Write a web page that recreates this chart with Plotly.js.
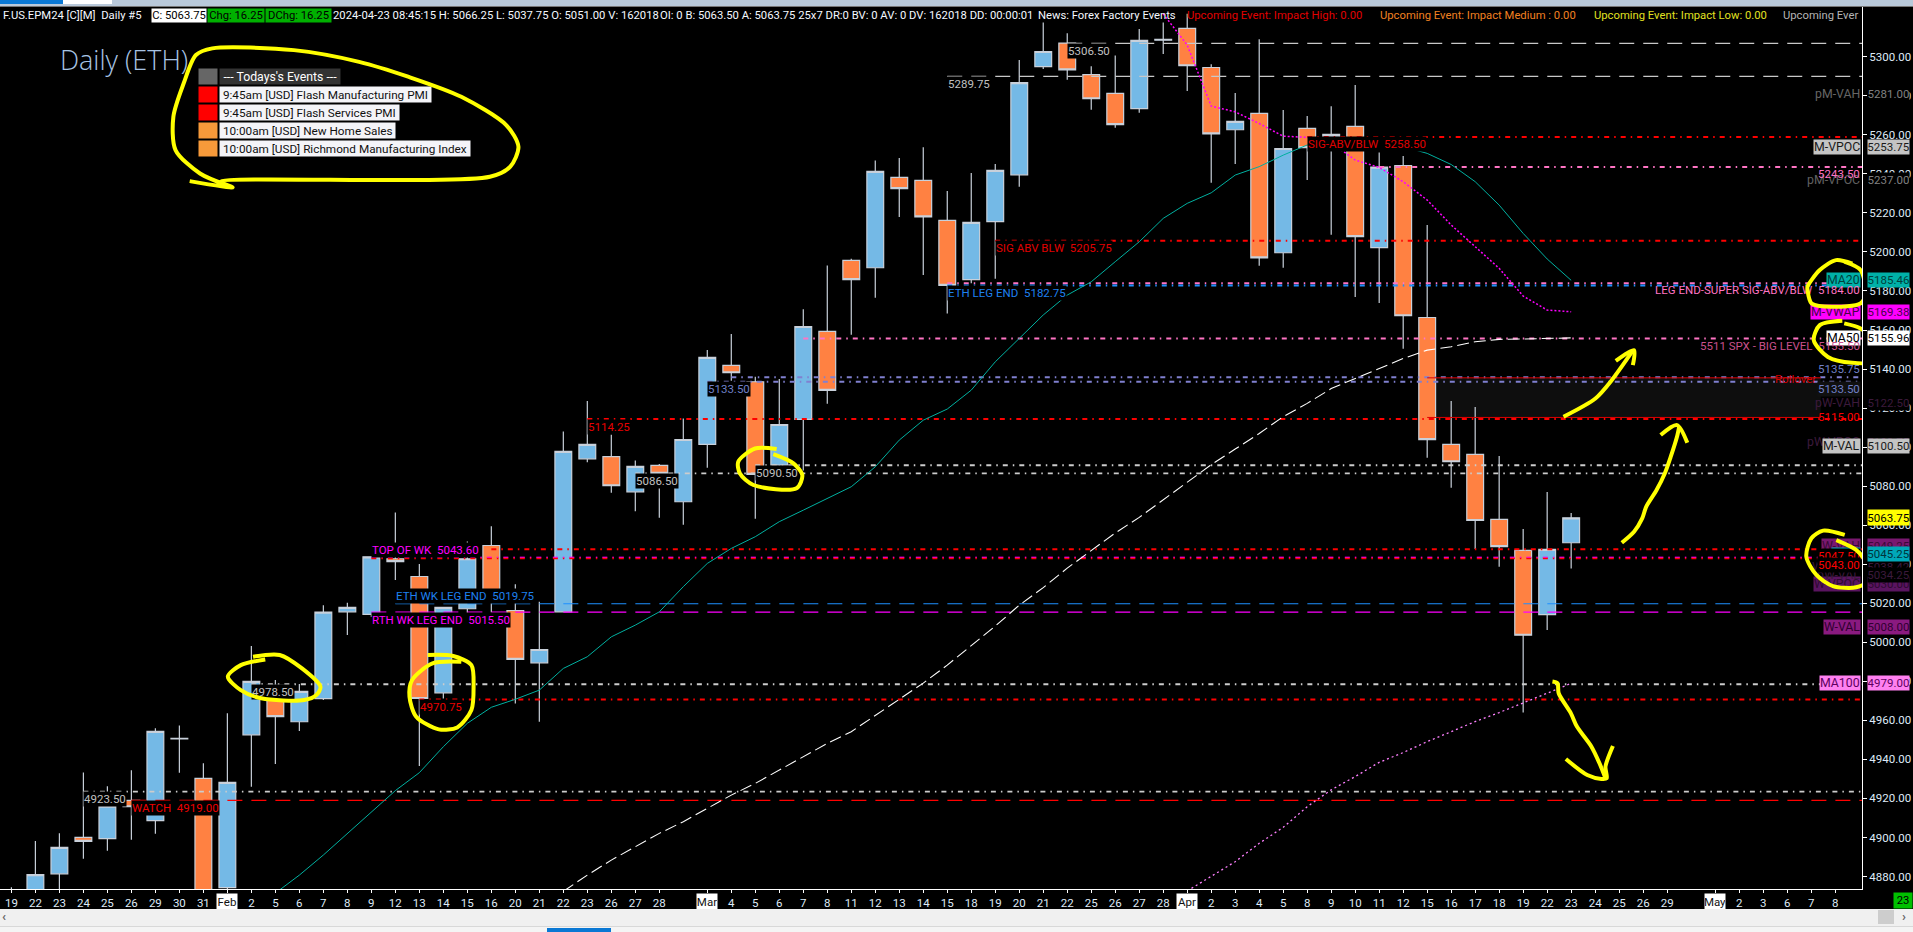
<!DOCTYPE html>
<html>
<head>
<meta charset="utf-8">
<script src="https://cdn.plot.ly/plotly-3.0.1.min.js"></script>
<style>
html,body{margin:0;padding:0;background:#000;overflow:hidden;width:1913px;height:932px}
#chart,#ink{position:absolute;left:0;top:0;width:1913px;height:932px}
#ink{pointer-events:none}
.c{position:absolute}
</style>
</head>
<body>
<div id="chart"></div>
<div id="ink"></div>
<div class="c" style="left:0;top:0;width:1913px;height:6px;background:#b9c9da;border-bottom:1px solid #777"></div>
<div class="c" style="left:0;top:0;width:63px;height:4px;background:#0a78d4"></div>
<div class="c" style="left:63px;top:0;width:49px;height:4px;background:#fff"></div>
<div class="c" style="left:0;top:909px;width:1913px;height:17px;background:#f0f0f0"></div>
<div class="c" style="left:0;top:926px;width:1913px;height:6px;background:#f4f4f4;border-top:1px solid #d8d8d8"></div>
<div class="c" style="left:1878px;top:910px;width:16px;height:14px;background:#cdcdcd"></div>
<div class="c" style="left:2px;top:909px;font:bold 13px Roboto;color:#666">‹</div>
<div class="c" style="left:1902px;top:909px;font:bold 13px Roboto;color:#666">›</div>
<div class="c" style="left:547px;top:928px;width:64px;height:4px;background:#0a78d4"></div>
<script>
// ---- bars: one slot per trading session ----
const dayLabels = ['19','22','23','24','25','26','29','30','31','','2','5','6','7','8','9','12','13','14','15','16','20','21','22','23','26','27','28','','','4','5','6','7','8','11','12','13','14','15','18','19','20','21','22','25','26','27','28','','2','3','4','5','8','9','10','11','12','15','16','17','18','19','22','23','24','25','26','29','','','2','3','6','7','8'];
const monthSlots = [9,29,49,71];
const monthNames = ['Feb','Mar','Apr','May'];

const opens  = [4868,4870,4881.4,4900,4899.4,4919,4908.6,4950.5,4930.3,4874.3,4952.6,4978,4959.3,4971.1,5015.6,5014.3,5042.8,5033.7,4974.1,5017.2,5049.6,5016.3,4989.5,5015.6,5094,5095.1,5077.1,5090.6,5072,5101.4,5141.9,5133.5,5090.8,5114.2,5159.3,5195.7,5191.9,5238.2,5236.7,5216.2,5185.8,5215.5,5239.5,5294.9,5307,5290.9,5281.2,5273.4,5308.5,5314.5,5294.5,5262.6,5271,5199.6,5263.3,5259,5264.3,5202.2,5244.3,5166.4,5101.4,5096.3,5063,5047.1,5014.2,5051];
const highs  = [4874.5,4898.2,4902.1,4933.3,4926.3,4934.5,4955.9,4957.4,4938,4963.6,4998.1,4980.7,4978.6,5019,5020.3,5043.8,5066.5,5040.1,5018,5051.7,5059.4,5029.8,5020.8,5108,5123.6,5106.5,5093.2,5091.3,5114.7,5149.7,5157.9,5136,5134.9,5170.7,5193.1,5196.5,5246.9,5248.1,5253.7,5231.2,5240.4,5245,5298.3,5317.6,5312,5295.2,5300.7,5314.2,5317.6,5322,5296.2,5281.4,5309,5272.7,5269.6,5274.7,5285.5,5251,5249.1,5213.8,5123.6,5120.5,5095.4,5058,5077,5066.25];
const lows   = [4860,4862,4868,4889.1,4893.2,4898.8,4901.9,4933.2,4862,4872.5,4926,4937.6,4954.5,4970.4,5003.7,5013,5031.9,4936.6,4971.2,5014,5015.3,4968.7,4959.3,5015.6,5092.3,5076.6,5067.2,5063.8,5060.2,5089.4,5134,5063.3,5090,5088,5122.2,5157.6,5176.5,5217.9,5188.2,5168.5,5183.9,5186.3,5233.4,5293.7,5288.2,5272.8,5263.6,5271.3,5301.4,5282.4,5235.4,5245,5192.9,5191.9,5236.8,5208.8,5176.9,5173.8,5150.4,5094.6,5079.2,5047.8,5038.7,4964,5006.3,5037.75];
const closes = [4872,4881,4894.9,4898,4916.1,4915.75,4954.4,4950.75,4868,4928.2,4980,4961.9,4974.9,5015.5,5017.9,5043.8,5041.3,4971.2,5017.9,5042.8,5024,4991.2,4996.3,5097.8,5101.4,5080.2,5090.1,5086.5,5103.9,5146,5138.1,5086,5111.6,5161.8,5129.1,5185.8,5241.3,5232.4,5218,5182.9,5215.1,5241.8,5286.8,5302.7,5293.3,5278.5,5265.2,5308.4,5308.9,5295.4,5260.5,5266.9,5197,5253,5253.4,5260.2,5207.8,5243.5,5167.3,5103.8,5092.5,5062.4,5049,5003.6,5047.6,5063.75];

// ---- moving averages: first slot + values ----
const ma20Start = 11;
const ma20 = [4871.5,4880.7,4891,4902,4913.2,4924,4933.2,4946.5,4958.5,4966.7,4970.8,4975.5,4986.6,4992.6,5002.8,5008.8,5015.6,5028.5,5040.4,5048.1,5054.1,5061.8,5067.7,5073.7,5079.7,5089.9,5103.6,5113.8,5119.5,5129.2,5143.7,5155.7,5167.7,5177.9,5184.7,5195,5205.2,5217.2,5224.9,5230.3,5239.4,5243.7,5249.6,5254.8,5257,5258,5257,5254,5250.5,5244.8,5236,5224,5209.5,5196.4,5185.46];
const ma50Start = 23;
const ma50 = [4872.4,4880.7,4888.4,4895.3,4902.1,4908.1,4914.9,4921.7,4927.7,4934.5,4941.7,4948.2,4954.2,4962.5,4971,4979.1,4988.3,4998.2,5008.3,5019,5028,5038,5047,5056,5064,5073,5082,5091,5099,5107,5115.6,5122.4,5130,5135.2,5140.3,5145.4,5149.7,5151.4,5154,5155.2,5155.4,5155.7,5155.96];
const ma100Start = 49;
const ma100 = [4872.6,4879.9,4887.6,4897,4905.2,4915.8,4924.4,4931.2,4938.5,4943.5,4949.1,4954.2,4959.4,4964,4968.8,4973.9,4979];
const vwapStart = 48;
const vwap = [5322,5306,5274.7,5271.8,5265.8,5259.3,5258.7,5256,5247.1,5243.3,5236,5226.6,5213.8,5202.7,5191.6,5177.4,5170.2,5169.38];

// ---- horizontal levels ----
const longDashPrices = [5306.9,5290];
const longDashSlots  = [44,39];
const redPrices = [5258.9,5205.75,5114.4,5047.7,5043,4970.75];
const redSlots  = [54,41,24,20,15,17];
const pinkPrices = [5243.5,5184,5155.7];
const pinkSlots  = [57,39,33];
const bluePrices = [5182.75];
const blueSlots  = [39];
const violetPrices = [5135.75,5133.5];
const violetSlots  = [30,29];
const greyPrices = [5090.7,5086.5,4978.5,4923.5];
const greySlots  = [31,26,10,3];
const topOfWeekPrice = 5043.6, topOfWeekSlot = 15;
const weekLegPrices = [5019.75,5015.5,4919];
const weekLegSlots  = [16,15,5];
const rolloverZone = [5135.5,5115.2];
const rolloverSlots = [59,75.4];

// ---- on-chart level captions ----
const captionTexts  = ['5306.50','5289.75','SIG ABV BLW  5205.75','ETH LEG END  5182.75','SIG-ABV/BLW  5258.50','5133.50','5114.25','5086.50','5090.50','TOP OF WK  5043.60','ETH WK LEG END  5019.75','RTH WK LEG END  5015.50','4978.50','4970.75','4923.50','WATCH  4919.00'];
const captionPrices = [5306.9,5290,5205.75,5182.75,5258.9,5133.5,5114.4,5086.5,5090.7,5043.6,5019.75,5015.5,4978.5,4970.75,4923.5,4919];
const captionSlots  = [44,39,41,39,54,29,24,26,31,15,16,15,10,17,3,5];

// ---- right-hand axis boxes ----
const sideNames  = ['pM-VAH','M-VPOC','pM-VPOC','MA20','M-VWAP','MA50','pW-VAH','pW-VPOC','M-VAL','W-VAH','W-VWAP','pW-VAL','W-VPOC','W-VAL','MA100'];
const sideValues = [5281,5253.75,5237,5185.46,5169.38,5155.96,5122.5,5102.75,5100.5,5049.25,5038.42,5034.25,5030,5008,4979];
const lastPrice = 5063.75, maFastValue = 5045.25;

const eventRows = ["--- Todays's Events ---",'9:45am [USD] Flash Manufacturing PMI','9:45am [USD] Flash Services PMI','10:00am [USD] New Home Sales','10:00am [USD] Richmond Manufacturing Index'];

// ---- hand-drawn marker strokes in (slot, price) ----
const inkLegendX=[7.43,9.22,8.71,19.94,20.79,21.13,20.62,18.75,16.53,14.49,11.77,8.37,7.69,7.18,6.75,6.84,7.86,8.97];
const inkLegendY=[5236.3,5233.1,5236,5238.5,5243.7,5253.9,5265,5279.5,5289.8,5297.4,5303.4,5304.3,5300.9,5286.4,5269.3,5252.2,5240.2,5234.3];
const inkMa20X=[76.72,76.04,75.36,74.85,74.85,75.02,75.87,77.06,77.27,77.06,76.38];
const inkMa20Y=[5194,5195.8,5190.7,5182.2,5180.5,5173.6,5171.9,5173.6,5178.7,5190.7,5195];
const inkMa50X=[76.3,75.36,75.11,75.7,76.72,77.66,77.57,77.06,76.38];
const inkMa50Y=[5164.7,5162.5,5154.8,5146.2,5143.2,5143.9,5154.8,5160.8,5163.4];
const inkUp1X=[64.68,66.01,66.69,67.54];
const inkUp1Y=[5115.6,5124.95,5134.3,5148.9];
const inkUp1HeadX=[66.86,67.62,67.57];
const inkUp1HeadY=[5144.2,5149.7,5142];
const inkUp2X=[67.11,67.62,67.96,68.13,68.56,68.9,69.15,69.41,69.5];
const inkUp2Y=[5051,5056.6,5063.5,5069.5,5078,5086.5,5095.1,5105.3,5110.4];
const inkUp2HeadX=[68.73,69.41,69.84];
const inkUp2HeadY=[5106.2,5111.3,5102.2];
const inkWkX=[76.4,75.5,75.01,74.8,75.22,75.91,76.88,77.44,77.3,76.88,76.05];
const inkWkY=[5055,5057.2,5053.3,5043.9,5034.5,5028.8,5028.2,5031.9,5040.5,5047.3,5052.4];
const inkDownX=[64.22,64.43,64.48,64.99,65.24,65.84,66.18,66.43];
const inkDownY=[4979.9,4979,4973.9,4963.6,4956.8,4946.6,4938,4930.3];
const inkDownHeadX=[64.78,65.67,66.26,66.48,66.43,66.74];
const inkDownHeadY=[4940.2,4932,4930,4930.3,4936.3,4946.9];
const inkA1X=[10.07,11.18,12.11,12.88,12.71,12.2,10.41,9.56,9.02,9.56,10.58];
const inkA1Y=[4992.6,4993.5,4986.6,4977.2,4973,4970.4,4971.3,4975.5,4982.4,4988.3,4991.2];
const inkA2X=[17.35,18.41,19.17,19.26,19.17,18.58,17.81,16.87,16.59,16.7,17.55,18.75];
const inkA2Y=[4993.5,4993,4988.3,4977.2,4965.3,4956.4,4955.4,4961.9,4972.1,4980.7,4989.2,4990];
const inkA3X=[31.89,30.99,30.29,30.36,30.92,32.72,32.96,32.59,31.75];
const inkA3Y=[5099,5099.3,5092.5,5086.5,5080.6,5078.9,5085.7,5091.7,5096.4];

// ---- frame ----
const PW=1913,PH=932,PR=1862,PT=7,PB=889;
const fx=p=>p/PR, fy=p=>(PB-p)/(PB-PT);
const xRange=[-0.475,77.12], yRange=[4873.6,5325.5];
const FONT='Roboto';
const slots=closes.map((_,i)=>i);
const range=(s,n)=>Array.from({length:n},(_,i)=>s+i);

const LD='15px,9px', DD='5px,5px,1.5px,5px';
function hline(prices,starts,color,dash,width){
  return prices.map((p,i)=>({type:'scatter',mode:'lines',x:[starts[i],xRange[1]],y:[p,p],
    line:{color:color,dash:dash,width:width},hoverinfo:'skip',showlegend:false}));
}
function series(start,vals,color,dash,width){
  return {type:'scatter',mode:'lines',x:range(start,vals.length),y:vals,
    line:{color:color,dash:dash,width:width},hoverinfo:'skip',showlegend:false};
}
const traces=[
 {type:'candlestick',x:slots,open:opens,high:highs,low:lows,close:closes,whiskerwidth:0,hoverinfo:'skip',showlegend:false,
  increasing:{line:{color:'#c8d0da',width:1.2},fillcolor:'#74b9e6'},
  decreasing:{line:{color:'#c8d0da',width:1.2},fillcolor:'#ff8142'}},
 ...hline(longDashPrices,longDashSlots,'#c8c8c8',LD,1.2),
 ...hline(redPrices,redSlots,'#ff0000',DD,2),
 ...hline(pinkPrices,pinkSlots,'#ff74c4',DD,2),
 ...hline(bluePrices,blueSlots,'#1e90ff',DD,2),
 ...hline(violetPrices,violetSlots,'#8080d0',DD,2),
 ...hline(greyPrices,greySlots,'#cccccc',DD,1.8),
 ...hline([topOfWeekPrice],[topOfWeekSlot],'#ff00ff',DD,1),
 ...hline([weekLegPrices[0]],[weekLegSlots[0]],'#1e90ff',LD,1.2),
 ...hline([weekLegPrices[1]],[weekLegSlots[1]],'#ff00ff',LD,1.2),
 ...hline([weekLegPrices[2]],[weekLegSlots[2]],'#ff0000',LD,1.2),
 series(ma20Start,ma20,'#00b0a0','solid',1),
 series(ma50Start,ma50,'#ffffff','12px,5px',1.1),
 series(ma100Start,ma100,'#ff80ff','2px,3px',1.3),
 series(vwapStart,vwap,'#ff00ff','2px,2px',1.5)
];

const ann=[];
function note(text,o){ann.push(Object.assign({text:text,showarrow:false,borderpad:0,font:{family:FONT,size:11.5,color:'#fff'}},o));}
function px(text,x,y,color,bg,anchor,w,size){
  const o={xref:'paper',yref:'paper',x:fx(x),y:fy(y),xanchor:anchor||'left',yanchor:'middle',font:{family:FONT,size:size||11.25,color:color}};
  if(bg)o.bgcolor=bg; if(w){o.width=w;o.align='center';}
  note(text,o);
}
// header strip
px('F.US.EPM24 [C][M]  Daily #5',2,15,'#f4f8ff');
px('C: 5063.75',151,15,'#000','#fff',null,54);
px('Chg: 16.25',207,15,'#000','#00b000',null,56);
px('DChg: 16.25',265,15,'#000','#00b000',null,65);
px('2024-04-23 08:45:15 H: 5066.25 L: 5037.75 O: 5051.00 V: 162018',332,15,'#f4f8ff');
px('OI: 0 B: 5063.50 A: 5063.75 25x7 DR:0 BV: 0 AV: 0 DV: 162018 DD: 00:00:01',659,15,'#f4f8ff');
px('News: Forex Factory Events',1037,15,'#f4f8ff');
px('Upcoming Event: Impact High: 0.00',1186,15,'#e00000');
px('Upcoming Event: Impact Medium : 0.00',1379,15,'#f08020');
px('Upcoming Event: Impact Low: 0.00',1593,15,'#e0e020');
px('Upcoming Ever',1782,15,'#b4b4b4');
// chart title + events panel
note('Daily (ETH)',{xref:'paper',yref:'paper',x:fx(59),y:fy(60),xanchor:'left',yanchor:'middle',font:{family:'Open Sans',size:27,weight:300,color:'#a8c4e4'}});
const eventColors=['#666666','#ff0000','#ff0000','#f79a3a','#f79a3a'];
eventRows.forEach((t,i)=>{
  const y=76.7+i*18;
  px(' ',198,y,'#000',eventColors[i],'left',18,13);
  ann[ann.length-1].height=15;
  px(' '+t+' ',219,y,i==0?'#fff':'#111',i==0?'#333333':'#f4f4f8',null,i==0?120:null,i==0?12.3:11.75);
  ann[ann.length-1].height=15;
});
// captions
const captionColors={'SIG':'#e00000','ETH':'#1e80f0','TOP':'#ff00ff','RTH':'#ff00ff','WAT':'#f00000'};
captionTexts.forEach((t,i)=>{
  const key=t.slice(0,3);
  let color=captionColors[key]||'#c0c0c0';
  if(t==='5133.50')color='#7080c8';
  if(t==='5114.25'||t==='4970.75')color='#e80000';
  let shift=-7.5;
  if(key==='TOP')shift=7; if(t.startsWith('ETH WK'))shift=8;
  note(t,{xref:'x',yref:'y',x:captionSlots[i],y:captionPrices[i],xanchor:'left',yanchor:'middle',yshift:shift,bgcolor:'#000',
    font:{family:FONT,size:11.5,color:color}});
});
// right hand: caption text sitting on level lines
function yNote(text,price,color,shift,xpx,bg,anchor,size){
  const o={xref:'paper',yref:'y',x:fx(xpx||1861),y:price,xanchor:anchor||'right',yanchor:'middle',yshift:shift||0,font:{family:FONT,size:size||11.5,color:color}};
  if(bg)o.bgcolor=bg; note(text,o);
}
function box(i,bg,txt,valBg,valTxt,shift){
  yNote(sideNames[i],sideValues[i],txt,shift||0,1861,bg,null,12.3);
  const o={xref:'paper',yref:'y',x:fx(1866.5),y:sideValues[i],xanchor:'left',yanchor:'middle',width:41,height:14,align:'center',yshift:shift||0,
    font:{family:FONT,size:11.5,color:valTxt||txt}};
  o.bgcolor=valBg||bg||'#000';
  note(sideValues[i].toFixed(2),o);
}
box(0,null,'#666666','#000','#808080');
box(2,null,'#606060','#000','#808080');
box(1,'#c4c4c4','#1a1a1a');
yNote('5243.50',5243.5,'#ff74c4',-7);
box(3,'#00b0a8','#00403c');
box(4,'#ff00ff','#4a004a');
box(5,'#ffffff','#000000');
yNote('LEG END-SUPER SIG-ABV/BLW  5184.00',5184,'#ff74c4',-7);
yNote('5511 SPX - BIG LEVEL  5155.50',5155.5,'#c8508c',-7);
yNote('5135.75',5135.75,'#7080c8',8,1861);
yNote('Rollover',5135,'#d00000',0,1795,null,'center');
yNote('5133.50',5133.5,'#7080c8',-7,1861,'#101010');
box(6,null,'#3c1a3c','#000','#3c1a3c');
yNote('5115.00',5115,'#ff0000',1);
box(7,null,'#3c1a3c','#000','#3c1a3c');
box(8,'#c4c4c4','#1a1a1a');
box(9,'#7a1870','#3a0a38');
box(12,'#5a1460','#2e0a30');
box(10,null,'#3c1a3c','#000','#3c1a3c');
box(11,null,'#3c1a3c','#000','#3c1a3c');
// teal fast MA chip
const tealChip={xref:'paper',yref:'y',x:fx(1866.5),y:maFastValue,xanchor:'left',yanchor:'middle',width:41,height:14,align:'center',bgcolor:'#00a8b8',font:{family:FONT,size:11.5,color:'#00343c'}};
note(maFastValue.toFixed(2),tealChip);
note('  ',{xref:'paper',yref:'y',x:fx(1861),y:maFastValue,yshift:3,xanchor:'right',yanchor:'middle',width:28,height:5,bgcolor:'#00a8b8'});
yNote('5047.50',5047.5,'#ff0000',-6,1861,'#000');
yNote('5043.00',5043,'#ff0000',-7,1861,'#000');
box(13,'#8a1a80','#300030');
box(14,'#ff80f0','#600060');
// last-price yellow
note(lastPrice.toFixed(2),{xref:'paper',yref:'y',x:fx(1866.5),y:lastPrice,xanchor:'left',yanchor:'middle',width:41,height:15,align:'center',bgcolor:'#ffff00',font:{family:FONT,size:11.5,color:'#000'}});
// month chips, today chip
monthSlots.forEach((s,i)=>note(monthNames[i],{xref:'x',yref:'paper',x:s,y:fy(901.5),xanchor:'center',yanchor:'middle',width:20,height:15,align:'center',bgcolor:'#fff',font:{family:FONT,size:11.5,color:'#111'}}));
px('23',1893,900.5,'#000','#00c000','left',18);
ann[ann.length-1].height=15;

const shapes=[
 {type:'rect',xref:'x',yref:'y',x0:rolloverSlots[0],x1:rolloverSlots[1],y0:rolloverZone[1],y1:rolloverZone[0],fillcolor:'#0e0e0e',line:{width:0},layer:'below'},
 {type:'line',xref:'x',yref:'y',x0:rolloverSlots[0],x1:rolloverSlots[1],y0:rolloverZone[0],y1:rolloverZone[0],line:{color:'#e00000',width:1},layer:'above'},
 {type:'line',xref:'x',yref:'y',x0:rolloverSlots[0],x1:rolloverSlots[1],y0:rolloverZone[1],y1:rolloverZone[1],line:{color:'#e00000',width:1},layer:'above'}
];
const tickVals=dayLabels.map((t,i)=>t?i:null).filter(v=>v!==null).concat(monthSlots);
const tickTexts=dayLabels.filter(t=>t).concat(monthNames.map(()=>' '));
const yTicks=[];for(let v=4880;v<=5300;v+=20)yTicks.push(v);

const margin={l:0,r:PW-PR,t:PT,b:PH-PB,pad:0};
const layout={width:PW,height:PH,margin:margin,paper_bgcolor:'#000',plot_bgcolor:'#000',showlegend:false,dragmode:false,hovermode:false,
 boxgap:0.3,boxgroupgap:0,
 font:{family:FONT},
 xaxis:{type:'linear',range:xRange,showgrid:false,zeroline:false,showline:true,linecolor:'#fff',linewidth:1,ticks:'outside',ticklen:3,tickcolor:'#fff',tickwidth:1,tickmode:'array',tickvals:tickVals,ticktext:tickTexts,tickfont:{family:FONT,size:11.5,color:'#dfeaf6'},rangeslider:{visible:false},fixedrange:true},
 yaxis:{type:'linear',range:yRange,side:'right',showgrid:false,zeroline:false,showline:true,linecolor:'#fff',linewidth:1,ticks:'outside',ticklen:4,tickcolor:'#fff',tickwidth:1,tickmode:'array',tickvals:yTicks,ticktext:yTicks.map(v=>v.toFixed(2)),tickfont:{family:FONT,size:11.5,color:'#dfeaf6'},fixedrange:true},
 annotations:ann,shapes:shapes};
Plotly.newPlot('chart',traces,layout,{displayModeBar:false,staticPlot:true});

// marker strokes sit above every label, so they get their own transparent layer
function stroke(x,y){return {type:'scatter',mode:'lines',x:x,y:y,cliponaxis:false,line:{color:'#ffff00',width:4,shape:'spline',smoothing:0.8},hoverinfo:'skip',showlegend:false};}
const inkTraces=[stroke(inkLegendX,inkLegendY),stroke(inkMa20X,inkMa20Y),stroke(inkMa50X,inkMa50Y),stroke(inkUp1X,inkUp1Y),stroke(inkUp1HeadX,inkUp1HeadY),stroke(inkUp2X,inkUp2Y),stroke(inkUp2HeadX,inkUp2HeadY),stroke(inkWkX,inkWkY),stroke(inkDownX,inkDownY),stroke(inkDownHeadX,inkDownHeadY),stroke(inkA1X,inkA1Y),stroke(inkA2X,inkA2Y),stroke(inkA3X,inkA3Y)];
Plotly.newPlot('ink',inkTraces,{width:PW,height:PH,margin:margin,paper_bgcolor:'rgba(0,0,0,0)',plot_bgcolor:'rgba(0,0,0,0)',showlegend:false,
 xaxis:{visible:false,range:xRange,fixedrange:true},yaxis:{visible:false,range:yRange,fixedrange:true}},{displayModeBar:false,staticPlot:true});
</script>
</body>
</html>
